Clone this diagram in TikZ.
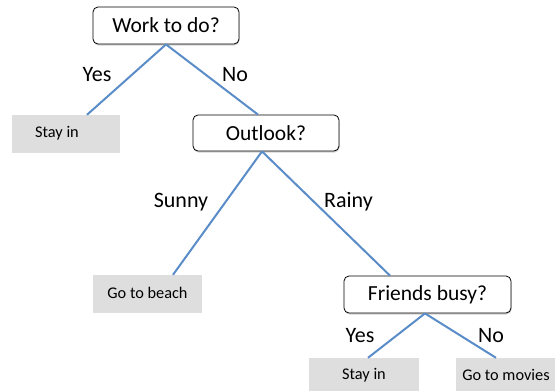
\documentclass[tikz,border=0pt]{standalone}
\usepackage{fontspec}
\setmainfont{Carlito}
\usetikzlibrary{shadows}
\definecolor{edgeblue}{HTML}{5A8DC8}
\definecolor{leafgray}{HTML}{DEDEDE}
\tikzset{
  question/.style={draw=black, line width=0.8pt, fill=white, rounded corners=5pt,
    inner sep=0pt, font=\fontsize{21.5}{25}\selectfont,
    drop shadow={shadow xshift=0.5pt, shadow yshift=-1.5pt, opacity=0.35}},
  leaf/.style={fill=leafgray, inner sep=0pt, font=\fontsize{16.3}{19}\selectfont,
    drop shadow={shadow xshift=0pt, shadow yshift=-2pt, opacity=0.25}},
  edge/.style={draw=edgeblue, line width=2pt},
  lbl/.style={inner sep=0pt, font=\fontsize{22}{26}\selectfont}
}
\begin{document}
\begin{tikzpicture}[x=1pt, y=-1pt]
\clip (0,0) rectangle (555,391);
\fill[white] (0,0) rectangle (555,391);
% nodes
\node[question, minimum width=146pt, minimum height=37pt] (work) at (166,25.5) {Work to do?};
\node[leaf, minimum width=108pt, minimum height=36pt] (stay1) at (66,133) {\hspace*{-18pt}Stay in};
\node[question, minimum width=146pt, minimum height=36pt] (outlook) at (266,133) {Outlook?};
\node[leaf, minimum width=109pt, minimum height=36pt] (beach) at (147.5,293) {Go to beach};
\node[question, minimum width=167pt, minimum height=37pt] (friends) at (427.5,294.5) {Friends busy?};
\node[leaf, minimum width=110pt, minimum height=34pt] (stay2) at (364,375) {Stay in};
\node[leaf, minimum width=100pt, minimum height=34pt] (movies) at (506,375) {Go to movies};
% connectors
\draw[edge] (work.south) -- ([xshift=21pt]stay1.north);
\draw[edge] (work.south) -- ([xshift=-8pt]outlook.north);
\draw[edge] ([xshift=-4pt]outlook.south) -- ([xshift=25.5pt]beach.north);
\draw[edge] ([xshift=-4pt]outlook.south) -- ([xshift=-37.5pt]friends.north);
\draw[edge] ([xshift=-2.5pt]friends.south) -- ([xshift=4pt]stay2.north);
\draw[edge] ([xshift=-2.5pt]friends.south) -- ([xshift=-10pt]movies.north);
% labels
\node[lbl] (l1) at (97,75) {Yes};
\node[lbl] (l2) at (235,75) {No};
\node[lbl] (l3) at (181,202) {Sunny};
\node[lbl] (l4) at (348.5,202) {Rainy};
\node[lbl] (l5) at (360,336) {Yes};
\node[lbl] (l6) at (491,336) {No};
\end{tikzpicture}
\end{document}
